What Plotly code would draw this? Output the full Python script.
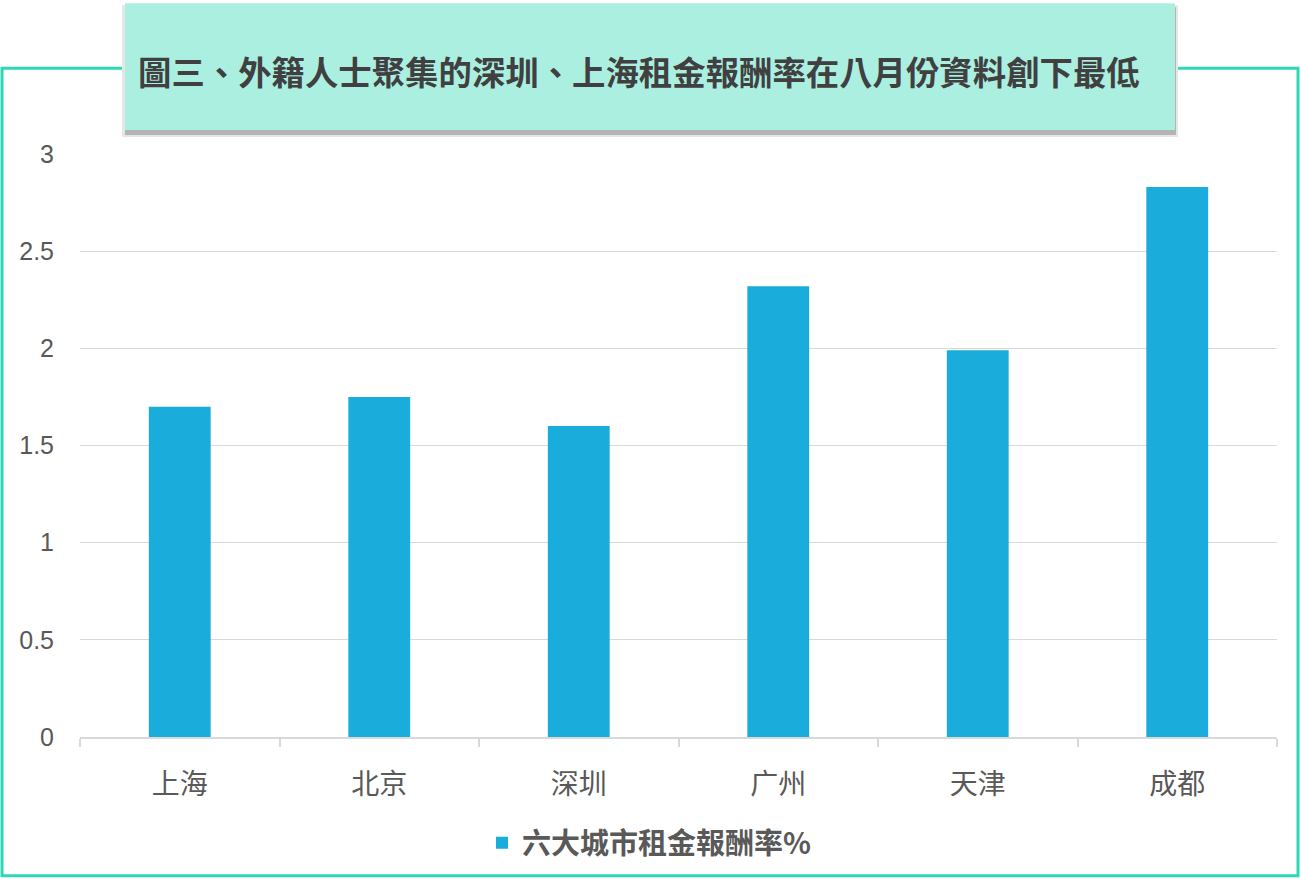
import plotly.graph_objects as go

categories = ["上海", "北京", "深圳", "广州", "天津", "成都"]
values = [1.70, 1.75, 1.60, 2.32, 1.99, 2.83]
series_name = "六大城市租金報酬率%"
title_text = "圖三、外籍人士聚集的深圳、上海租金報酬率在八月份資料創下最低"

W, H = 1301, 879
ML, MR, MT, MB = 80, 24, 154, 141
PW = W - ML - MR
PH = H - MT - MB


def px_x(p):
    return (p - ML) / PW


def px_y(p):
    return (H - MB - p) / PH


fig = go.Figure()
fig.add_trace(go.Bar(
    x=categories, y=values, name="<b>" + series_name + "</b>",
    marker=dict(color="#1AACDA", line=dict(width=0)),
    width=0.31, showlegend=True,
))

shapes = [
    # outer teal frame
    dict(type="rect", xref="paper", yref="paper",
         x0=px_x(2), x1=px_x(1298), y0=px_y(877), y1=px_y(68),
         line=dict(color="#2ED8B6", width=3), fillcolor="rgba(0,0,0,0)", layer="above"),
    # title box soft shadow
    dict(type="rect", xref="paper", yref="paper",
         x0=px_x(122), x1=px_x(1178), y0=px_y(137), y1=px_y(5),
         line=dict(width=0), fillcolor="#E6E6E6", layer="above"),
    # title box shadow (bottom)
    dict(type="rect", xref="paper", yref="paper",
         x0=px_x(125), x1=px_x(1176), y0=px_y(135), y1=px_y(7),
         line=dict(width=0), fillcolor="#B4B4B4", layer="above"),
    # title box
    dict(type="rect", xref="paper", yref="paper",
         x0=px_x(125), x1=px_x(1175), y0=px_y(130), y1=px_y(3),
         line=dict(width=0), fillcolor="#ABEFE0", layer="above"),
]

annotations = [
    dict(text="<b>" + title_text + "</b>", xref="paper", yref="paper",
         x=px_x(639), y=px_y(70), xanchor="center", yanchor="middle",
         showarrow=False,
         font=dict(family="Noto Sans CJK TC", size=33.4, color="#404040")),
]

fig.update_layout(
    width=W, height=H,
    margin=dict(l=ML, r=MR, t=MT, b=MB),
    paper_bgcolor="white", plot_bgcolor="white",
    shapes=shapes, annotations=annotations,
    legend=dict(orientation="h", x=px_x(482), y=px_y(843),
                xanchor="left", yanchor="middle",
                font=dict(family="Noto Sans CJK TC", size=29, color="#595959"),
                bgcolor="rgba(0,0,0,0)"),
    font=dict(family="Liberation Sans, Arial", color="#595959"),
)

fig.update_yaxes(
    range=[0, 3], dtick=0.5, tick0=0,
    showgrid=True, gridcolor="#D9D9D9", gridwidth=1.3,
    zeroline=False, showline=False, ticks="",
    tickfont=dict(family="Liberation Sans, Arial", size=25, color="#595959"),
    ticklabelstandoff=25,
)
fig.update_xaxes(
    showline=True, linecolor="#D9D9D9", linewidth=1.5,
    ticks="outside", tickson="boundaries", ticklen=8, tickcolor="#D9D9D9", tickwidth=1.5,
    showgrid=False,
    tickfont=dict(family="Noto Sans CJK SC", size=28, color="#595959"),
    ticklabelstandoff=22,
)

fig.write_html("out.html", config={"displayModeBar": False},
               post_script="document.body.style.margin='0';document.body.style.overflow='hidden';")
